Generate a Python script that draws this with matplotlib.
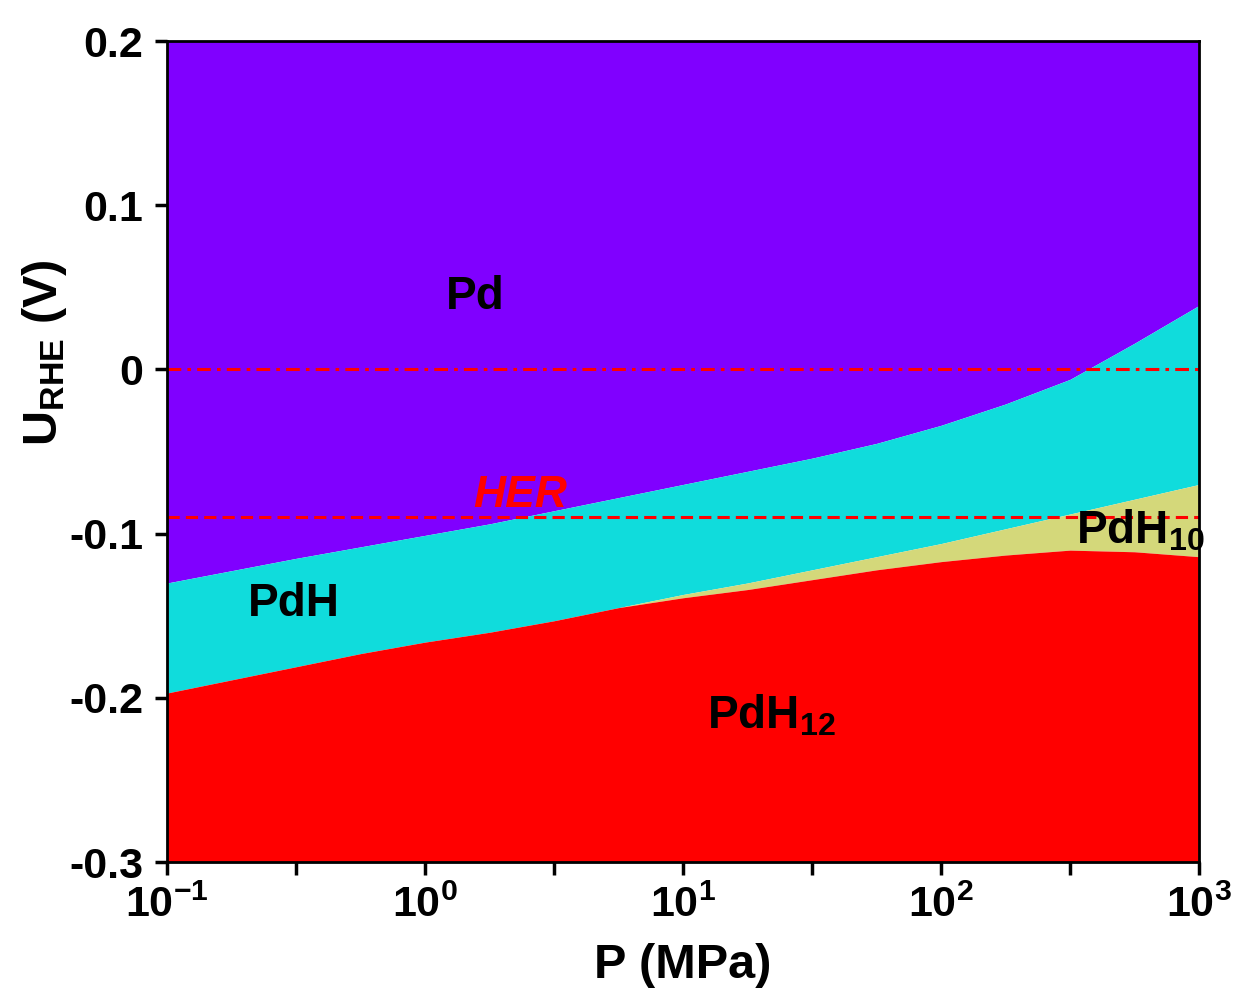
import numpy as np
import matplotlib
matplotlib.use('Agg')
import matplotlib.pyplot as plt

plt.rcParams['font.family'] = ['Liberation Sans', 'DejaVu Sans']
plt.rcParams['font.weight'] = 'bold'
plt.rcParams['mathtext.fontset'] = 'custom'
plt.rcParams['mathtext.rm'] = 'Liberation Sans:bold'
plt.rcParams['mathtext.it'] = 'Liberation Sans:bold:italic'
plt.rcParams['mathtext.bf'] = 'Liberation Sans:bold'

# log10 of pressure (MPa) and phase boundaries (V vs RHE)
log_p = [-1, -0.75, -0.5, -0.25, 0, 0.25, 0.5, 0.75, 1.0, 1.25, 1.5, 1.75, 2.0, 2.25, 2.5, 2.75, 3.0]
pd_pdh = [-0.130, -0.1225, -0.115, -0.108, -0.101, -0.094, -0.086, -0.078, -0.070, -0.062, -0.054,
          -0.045, -0.034, -0.021, -0.006, 0.016, 0.039]
pdh_low = [-0.197, -0.189, -0.181, -0.173, -0.166, -0.160, -0.153, -0.145, -0.137, -0.130, -0.122,
           -0.114, -0.106, -0.097, -0.088, -0.079, -0.070]
pdh12_top = [-0.197, -0.189, -0.181, -0.173, -0.166, -0.160, -0.153, -0.145, -0.139, -0.134, -0.128,
             -0.122, -0.117, -0.113, -0.110, -0.111, -0.114]
pressure = [10 ** v for v in log_p]

y_min, y_max = -0.3, 0.2
her_level = -0.09

x_ticks = [0.1, 10**-0.5, 1, 10**0.5, 10, 10**1.5, 100, 10**2.5, 1000]
x_labels = [r'$\mathregular{10^{-1}}$', '', r'$\mathregular{10^{0}}$', '', r'$\mathregular{10^{1}}$', '',
            r'$\mathregular{10^{2}}$', '', r'$\mathregular{10^{3}}$']
y_ticks = [0.2, 0.1, 0, -0.1, -0.2, -0.3]
y_labels = ['0.2', '0.1', '0', '-0.1', '-0.2', '-0.3']

fig = plt.figure(figsize=(12.38, 9.91), dpi=100)
ax = fig.add_axes([0.135, 0.130, 0.8335, 0.8286])

ax.fill_between(pressure, pd_pdh, y_max, color='#8000ff', lw=0)
ax.fill_between(pressure, pdh_low, pd_pdh, color='#10dcdc', lw=0)
ax.fill_between(pressure, pdh12_top, pdh_low, color='#d4d87a', lw=0)
ax.fill_between(pressure, y_min, pdh12_top, color='#ff0000', lw=0)

ax.axhline(0, color='#ff0000', lw=2.2, ls=(0, (4.5, 2, 1.2, 2)))
ax.axhline(her_level, color='#ff0000', lw=2.2, ls=(0, (4, 2)))

ax.set_xscale('log')
ax.set_xlim(0.1, 1000)
ax.set_ylim(y_min, y_max)
ax.minorticks_off()
ax.set_xticks(x_ticks)
ax.set_xticklabels(x_labels)
ax.set_yticks(y_ticks)
ax.set_yticklabels(y_labels)
ax.tick_params(axis='both', direction='out', length=9, width=2.5, labelsize=31, pad=8)
for s in ax.spines.values():
    s.set_linewidth(2)

ax.set_xlabel('P (MPa)', fontsize=35, fontweight='bold', labelpad=12)
ax.set_ylabel(r'U$_{\mathregular{RHE}}$ (V)', fontsize=35, fontweight='bold', labelpad=4)
ax.yaxis.set_label_coords(-0.095, 0.62)

ax.text(1.56, 0.044, 'Pd', fontsize=33, ha='center', va='center')
ax.text(0.31, -0.143, 'PdH', fontsize=33, ha='center', va='center')
ax.text(22, -0.211, r'PdH$_{\mathregular{12}}$', fontsize=33, ha='center', va='center')
ax.text(590, -0.098, r'PdH$_{\mathregular{10}}$', fontsize=33, ha='center', va='center')
ax.text(2.33, -0.077, 'HER', fontsize=32, color='#ff0000', style='italic', ha='center', va='center')

fig.savefig('out.png', dpi=100)
